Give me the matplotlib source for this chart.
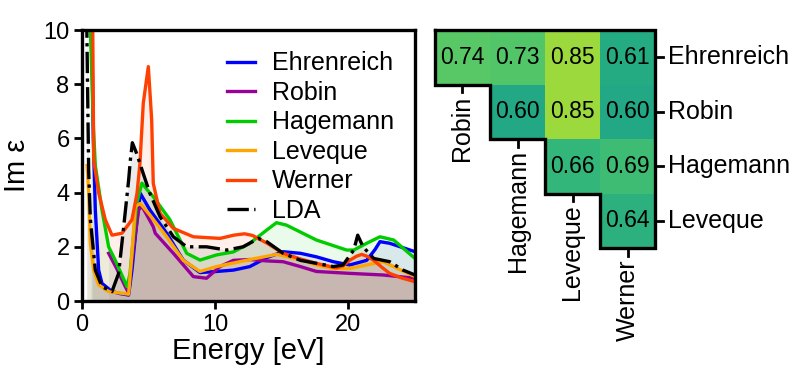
import numpy as np
import matplotlib
matplotlib.use("Agg")
import matplotlib.pyplot as plt

plt.rcParams['font.family'] = ['Liberation Sans', 'DejaVu Sans']

# ---------------- data: spectra ----------------
ehr_x = [0.72, 0.85, 1.0, 1.25, 1.5, 2.25, 2.8, 3.5, 3.75, 4.13, 4.38, 5.1, 6.36, 7.6, 8.86, 10.1,
         11.36, 12.6, 13.87, 15.1, 16.4, 17.6, 18.87, 20.1, 21.37, 22.0, 22.37, 23.1, 25.0]
ehr_y = [10.5, 6.0, 3.36, 1.14, 0.65, 0.35, 0.28, 0.22, 1.14, 3.0, 3.97, 3.36, 2.5, 1.51, 1.05, 1.09,
         1.14, 1.27, 1.6, 1.82, 1.76, 1.63, 1.45, 1.33, 1.5, 1.9, 2.19, 2.13, 1.82]

rob_x = [2.0, 2.6, 3.25, 3.5, 3.75, 4.25, 4.5, 5.35, 5.5, 6.86, 8.36, 9.35, 10.36, 11.36, 12.6,
         13.87, 15.1, 16.4, 17.6, 20.1, 22.6, 25.0]
rob_y = [1.76, 1.2, 0.53, 0.3, 1.5, 3.36, 3.5, 2.74, 2.5, 1.76, 0.9, 0.84, 1.27, 1.5, 1.53,
         1.48, 1.45, 1.27, 1.09, 1.02, 0.96, 0.84]

hag_x = [0.6, 0.85, 1.0, 1.5, 2.0, 2.5, 3.38, 3.6, 4.1, 4.5, 4.9, 5.35, 6.6, 7.86, 8.86, 10.1,
         11.36, 12.6, 13.87, 14.6, 15.35, 17.6, 19.87, 20.4, 21.37, 22.37, 23.4, 25.0]
hag_y = [10.5, 6.5, 5.0, 3.36, 2.0, 1.5, 0.53, 1.0, 3.6, 4.35, 4.1, 3.85, 3.0, 1.76, 1.51, 1.7,
         1.81, 2.13, 2.62, 2.89, 2.8, 2.25, 1.88, 1.88, 2.13, 2.37, 2.25, 1.57]

lev_x = [0.38, 0.5, 0.63, 0.88, 1.25, 2.0, 3.5, 3.75, 4.0, 4.38, 5.1, 6.36, 7.6, 8.86, 10.1,
         11.36, 12.6, 13.87, 14.6, 16.4, 17.6, 18.87, 20.1, 21.37, 22.6, 25.0]
lev_y = [5.0, 4.0, 2.13, 1.14, 0.59, 0.35, 0.25, 1.76, 3.48, 3.6, 3.17, 2.37, 1.5, 1.09, 1.27,
         1.4, 1.53, 1.65, 1.72, 1.53, 1.33, 1.2, 1.2, 1.33, 1.45, 0.9]

wer_x = [0.8, 0.88, 1.25, 1.75, 2.25, 3.0, 3.75, 4.13, 4.35, 4.6, 4.98, 5.23, 5.35, 5.86, 6.86,
         8.36, 10.36, 11.4, 12.2, 12.8, 13.9, 15.1, 16.4, 17.6, 19.1, 19.6, 20.1, 20.6, 21.0,
         21.4, 21.9, 22.5, 23.1, 24.0, 25.0]
wer_y = [10.5, 5.2, 4.0, 3.0, 2.43, 2.5, 3.0, 3.97, 5.08, 7.3, 8.65, 6.7, 4.34, 3.24, 2.68,
         2.37, 2.31, 2.43, 2.48, 2.42, 2.13, 1.76, 1.55, 1.39, 1.22, 1.3, 1.5, 1.65, 1.72,
         1.65, 1.5, 1.25, 1.02, 0.85, 0.71]

lda_x = [0.35, 0.5, 0.63, 1.0, 1.5, 2.25, 2.75, 3.13, 3.5, 3.63, 3.78, 4.1, 4.6, 5.1, 5.86, 6.86,
         7.86, 9.35, 10.86, 12.1, 13.24, 13.87, 15.1, 16.4, 17.6, 18.87, 19.6, 20.4, 20.7, 21.1,
         21.9, 23.1, 24.1, 25.0]
lda_y = [10.5, 4.8, 3.0, 1.14, 0.53, 0.35, 1.02, 2.74, 4.46, 5.2, 5.84, 5.45, 4.7, 3.97, 3.11, 2.37,
         2.0, 2.0, 1.88, 2.0, 2.31, 2.19, 1.76, 1.5, 1.39, 1.27, 1.33, 1.88, 2.43, 2.0,
         1.57, 1.45, 1.14, 0.96]

series = [
    ("Ehrenreich", ehr_x, ehr_y, "#0000ff", "-"),
    ("Robin", rob_x, rob_y, "#990099", "-"),
    ("Hagemann", hag_x, hag_y, "#00cc00", "-"),
    ("Leveque", lev_x, lev_y, "#ffa500", "-"),
    ("Werner", wer_x, wer_y, "#ff4000", "-"),
    ("LDA", lda_x, lda_y, "#000000", "-."),
]

# ---------------- data: correlation matrix ----------------
col_labels = ["Robin", "Hagemann", "Leveque", "Werner"]
row_labels = ["Ehrenreich", "Robin", "Hagemann", "Leveque"]
row_ehr = [0.74, 0.73, 0.85, 0.61]
row_rob = [np.nan, 0.60, 0.85, 0.60]
row_hag = [np.nan, np.nan, 0.66, 0.69]
row_lev = [np.nan, np.nan, np.nan, 0.64]

fig = plt.figure(figsize=(8.0, 3.78), dpi=100)

# ---------------- left panel ----------------
ax = fig.add_axes([0.1025, 0.2037, 0.41625, 0.7169])
for name, x, y, c, ls in series:
    ax.fill_between(x, 0, y, color=c, alpha=0.08, linewidth=0)
    ax.plot(x, y, color=c, ls=ls, lw=2.4, label=name)
ax.set_xlim(0, 25)
ax.set_ylim(0, 10)
ax.set_xticks([0, 10, 20])
ax.set_yticks([0, 2, 4, 6, 8, 10])
ax.tick_params(labelsize=17, width=2, length=6, pad=3)
for s in ax.spines.values():
    s.set_linewidth(2.4)
ax.set_xlabel("Energy [eV]", fontsize=21, labelpad=1)
ax.set_ylabel("Im ε", fontsize=21, labelpad=9)
ax.legend(loc="upper right", frameon=False, fontsize=18, handlelength=1.15,
          handletextpad=0.65, labelspacing=0.22, borderaxespad=0.45)

# ---------------- right panel ----------------
hx = fig.add_axes([0.54375, 0.3439, 0.275, 0.5767])
mat = np.ma.masked_invalid(np.array([row_ehr, row_rob, row_hag, row_lev]))
hx.pcolormesh(np.arange(5), np.arange(5), mat, cmap="viridis", vmin=0, vmax=1)
hx.set_xlim(0, 4)
hx.set_ylim(4, 0)
for sp in hx.spines.values():
    sp.set_visible(False)
hx.set_xticks([])
hx.set_yticks([])
n = len(row_labels)
for i in range(n):
    for j in range(len(col_labels)):
        v = mat[i, j]
        if v is not np.ma.masked:
            hx.text(j + 0.5, i + 0.5, f"{v:.2f}", ha="center", va="center", fontsize=16.5)
# staircase outline
ox = [0, 4, 4, 3, 3, 2, 2, 1, 1, 0, 0]
oy = [0, 0, 4, 4, 3, 3, 2, 2, 1, 1, 0]
hx.plot(ox, oy, color="black", lw=2.4, clip_on=False, solid_joinstyle="miter")
# right-side row ticks
tk = 0.14
for i, lab in enumerate(row_labels):
    hx.plot([4, 4 + tk], [i + 0.5, i + 0.5], color="black", lw=2, clip_on=False)
    hx.text(4 + tk + 0.09, i + 0.5, lab, ha="left", va="center", fontsize=18)
# staircase column ticks
for j, lab in enumerate(col_labels):
    yb = j + 1
    hx.plot([j + 0.5, j + 0.5], [yb, yb + tk], color="black", lw=2, clip_on=False)
    hx.text(j + 0.5, yb + tk + 0.06, lab, ha="center", va="top", rotation=90, fontsize=18)

fig.savefig("out.png", dpi=100)
